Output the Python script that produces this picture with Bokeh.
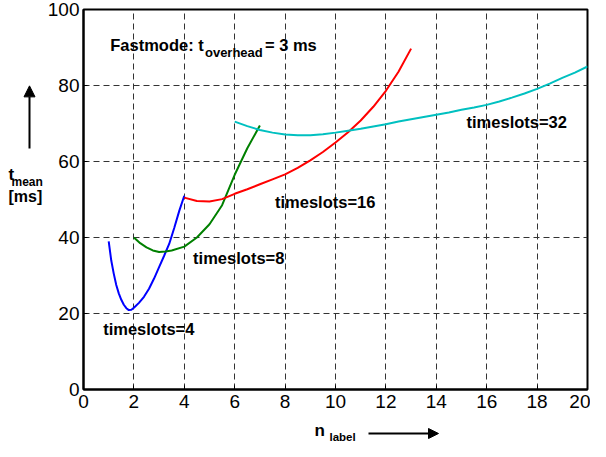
from bokeh.plotting import figure
from bokeh.layouts import column, row
from bokeh.models import Range1d, FixedTicker, Label, Arrow, NormalHead, ColumnDataSource
from bokeh.embed import file_html
from bokeh.resources import INLINE

# ---- data ----
x_ts4 = [1.0, 1.1, 1.2, 1.3, 1.4, 1.5, 1.6, 1.7, 1.8, 1.9, 2.0, 2.2, 2.4, 2.6, 2.8, 3.0, 3.2, 3.4, 3.6, 3.8, 4.0]
y_ts4 = [39.0, 34.0, 30.5, 27.5, 25.3, 23.6, 22.3, 21.4, 20.9, 21.0, 21.5, 22.8, 24.4, 26.5, 29.2, 32.2, 35.2, 38.3, 42.5, 47.0, 51.0]

x_ts8 = [2.0, 2.25, 2.5, 2.75, 3.0, 3.25, 3.5, 4.0, 4.5, 5.0, 5.5, 6.0, 6.5, 7.0]
y_ts8 = [40.0, 38.5, 37.4, 36.6, 36.2, 36.3, 36.6, 37.6, 40.0, 43.5, 48.5, 56.5, 63.5, 69.5]

x_ts16 = [4.0, 4.5, 5.0, 5.5, 6.0, 6.5, 7.0, 7.5, 8.0, 8.5, 9.0, 9.5, 10.0, 10.5, 11.0, 11.5, 12.0, 12.5, 13.0]
y_ts16 = [50.5, 49.6, 49.5, 50.1, 51.5, 52.7, 54.0, 55.3, 56.6, 58.3, 60.3, 62.5, 65.0, 67.7, 70.8, 74.4, 78.6, 83.6, 89.7]

x_ts32 = [6.0, 6.5, 7.0, 7.5, 8.0, 8.5, 9.0, 9.5, 10.0, 10.5, 11.0, 11.5, 12.0, 12.5, 13.0, 13.5, 14.0,
          14.5, 15.0, 15.5, 16.0, 16.5, 17.0, 17.5, 18.0, 18.5, 19.0, 19.5, 20.0]
y_ts32 = [70.5, 69.3, 68.3, 67.6, 67.1, 66.9, 66.9, 67.2, 67.6, 68.1, 68.6, 69.2, 69.8, 70.5, 71.1, 71.7, 72.3,
          72.9, 73.6, 74.2, 74.9, 75.8, 76.8, 77.9, 79.1, 80.5, 82.0, 83.4, 85.0]

x_ticks = [0, 2, 4, 6, 8, 10, 12, 14, 16, 18, 20]
y_ticks = [0, 20, 40, 60, 80, 100]

series = [
    (x_ts4, y_ts4, "#0000ff", "timeslots=4", 0.78, 15.9),
    (x_ts8, y_ts8, "#008000", "timeslots=8", 4.35, 34.7),
    (x_ts16, y_ts16, "#ff0000", "timeslots=16", 7.6, 49.4),
    (x_ts32, y_ts32, "#00c0c0", "timeslots=32", 15.2, 70.4),
]

FONT = "Liberation Sans"
TOTAL_W, TOTAL_H = 590, 441
LEFT_W = 43
MAIN_H = 418
BOTTOM_H = TOTAL_H - MAIN_H


def lab(fig, x, y, text, size, baseline="alphabetic"):
    fig.add_layout(Label(x=x, y=y, text=text, text_font=FONT, text_font_style="bold",
                         text_font_size=size, text_baseline=baseline, text_color="black"))


def panel(w, h):
    f = figure(width=w, height=h, output_backend="svg", toolbar_location=None,
               x_axis_type=None, y_axis_type=None,
               x_range=Range1d(0, w), y_range=Range1d(h, 0),
               min_border=0, min_border_left=0, min_border_right=0,
               min_border_top=0, min_border_bottom=0)
    f.outline_line_color = None
    f.background_fill_color = "white"
    f.border_fill_color = "white"
    return f


# ---- main plot ----
p = figure(width=TOTAL_W - LEFT_W, height=MAIN_H, output_backend="svg", toolbar_location=None,
           x_range=Range1d(0, 20), y_range=Range1d(0, 100),
           min_border_left=40, min_border_right=3, min_border_top=9, min_border_bottom=29)
p.outline_line_color = "black"
p.outline_line_width = 2
p.background_fill_color = "white"
p.border_fill_color = "white"

for ax, ticks in ((p.xaxis[0], x_ticks), (p.yaxis[0], y_ticks)):
    ax.ticker = FixedTicker(ticks=ticks)
    ax.axis_line_width = 2
    ax.axis_line_color = "black"
    ax.major_tick_in = 4
    ax.major_tick_out = 0
    ax.minor_tick_line_color = None
    ax.major_tick_line_color = "black"
    ax.major_label_text_font = FONT
    ax.major_label_text_font_size = "19px"
    ax.major_label_text_color = "black"
p.xaxis.major_label_standoff = 5
p.yaxis.major_label_standoff = 4

for g in (p.xgrid[0], p.ygrid[0]):
    g.grid_line_color = "#333333"
    g.grid_line_dash = "6 4"
    g.grid_line_width = 1

for xs, ys, col, name, lx, ly in series:
    src = ColumnDataSource(dict(x=xs, y=ys))
    p.line("x", "y", source=src, line_color=col, line_width=2)
    lab(p, lx, ly, name, "16.5px", "middle")

# annotation inside plot: "Fastmode: t_overhead = 3 ms"
lab(p, 1.06, 90.7, "Fastmode: t", "16.5px")
lab(p, 4.82, 88.6, "overhead", "13px")
lab(p, 7.2, 90.7, "= 3 ms", "16.5px")

# ---- left panel: y label ----
left = panel(LEFT_W, MAIN_H)
lab(left, 8, 181, "t", "17px")
lab(left, 11, 190, "mean", "12px")
lab(left, 8, 206, "[ms]", "16px")
left.add_layout(Arrow(end=NormalHead(size=11, fill_color="black", line_color="black"),
                      x_start=29, y_start=153, x_end=29, y_end=84, line_width=2))

# ---- bottom panel: x label ----
bottom = panel(TOTAL_W, BOTTOM_H)
lab(bottom, 314, 12, "n", "17px")
lab(bottom, 329, 18, "label", "11.5px")
bottom.add_layout(Arrow(end=NormalHead(size=10, fill_color="black", line_color="black"),
                        x_start=368, y_start=15, x_end=438, y_end=15, line_width=2))

layout = column(row(left, p, spacing=0), bottom, spacing=0)

open("out.html", "w").write(file_html(layout, INLINE))
